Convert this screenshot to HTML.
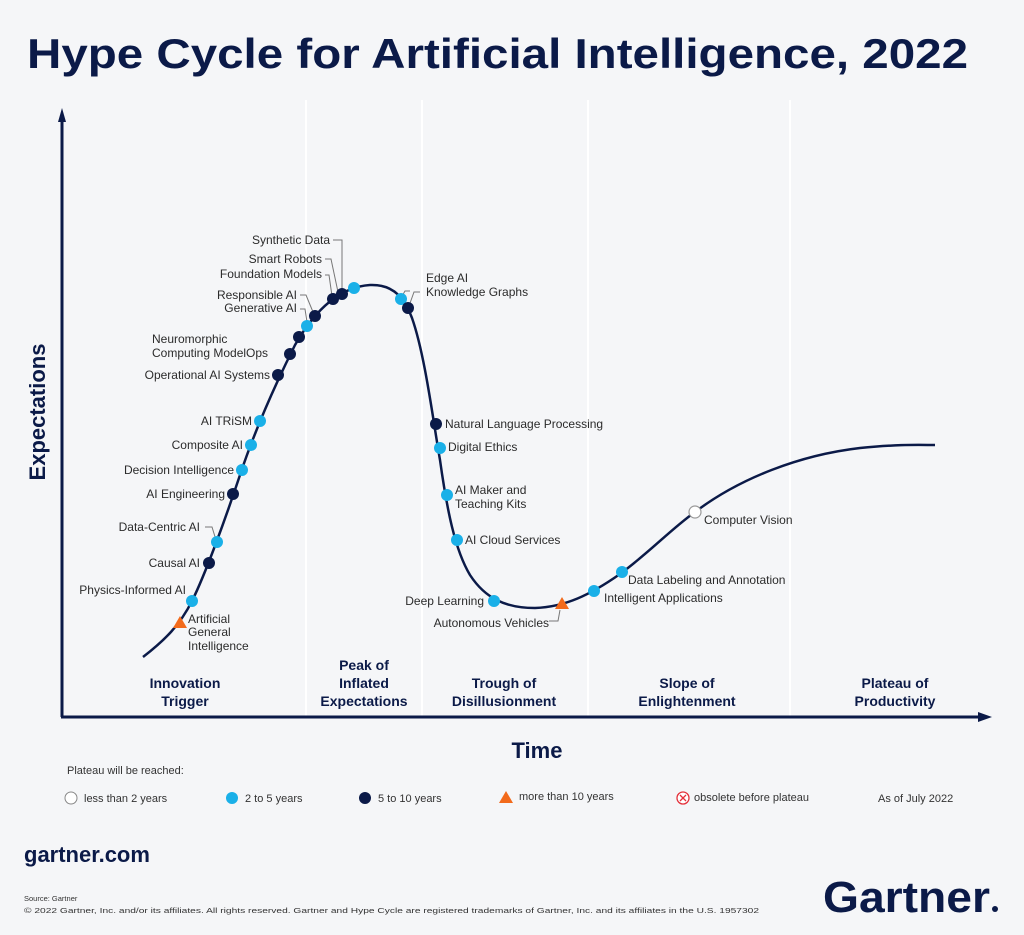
<!DOCTYPE html>
<html><head><meta charset="utf-8"><style>
html,body{margin:0;padding:0;background:#f5f6f8;}
svg{display:block;font-family:"Liberation Sans",sans-serif;}
.l{font-size:12px;fill:#2b2b2b;}
.ph{font-size:14px;font-weight:bold;fill:#0b1a48;text-anchor:middle;}
.lg{font-size:11px;fill:#333;}
.ld{stroke:#777;stroke-width:1;fill:none;}
</style></head><body>
<svg width="1024" height="935" viewBox="0 0 1024 935">
<rect width="1024" height="935" fill="#f5f6f8"/>
<text x="27" y="68" font-size="42" font-weight="bold" fill="#0b1a48" textLength="941" lengthAdjust="spacingAndGlyphs">Hype Cycle for Artificial Intelligence, 2022</text>
<g stroke="#ffffff" stroke-width="2">
<line x1="306" y1="100" x2="306" y2="716"/><line x1="422" y1="100" x2="422" y2="716"/>
<line x1="588" y1="100" x2="588" y2="716"/><line x1="790" y1="100" x2="790" y2="716"/>
</g>
<g stroke="#0b1a48" stroke-width="3" fill="none">
<line x1="62" y1="118" x2="62" y2="717"/><line x1="61" y1="717" x2="982" y2="717"/>
</g>
<polygon points="62,108 58,122 66,122" fill="#0b1a48"/>
<polygon points="992,717 978,712 978,722" fill="#0b1a48"/>
<text transform="translate(45,412) rotate(-90)" font-size="22" font-weight="bold" fill="#0b1a48" text-anchor="middle">Expectations</text>
<text x="537" y="758" font-size="22" font-weight="bold" fill="#0b1a48" text-anchor="middle">Time</text>
<text class="ph" x="185" y="688">Innovation</text><text class="ph" x="185" y="706">Trigger</text>
<text class="ph" x="364" y="670">Peak of</text><text class="ph" x="364" y="688">Inflated</text><text class="ph" x="364" y="706">Expectations</text>
<text class="ph" x="504" y="688">Trough of</text><text class="ph" x="504" y="706">Disillusionment</text>
<text class="ph" x="687" y="688">Slope of</text><text class="ph" x="687" y="706">Enlightenment</text>
<text class="ph" x="895" y="688">Plateau of</text><text class="ph" x="895" y="706">Productivity</text>
<path d="M143,657 C165,640 180,625 192,601 C205,575 225,520 240,475 C255,430 275,385 295,345 C315,310 340,287 370,285 C395,284 405,300 412,318 C425,355 433,420 440,460 C447,510 455,550 470,575 C485,598 505,608 535,608 C565,607 590,595 620,574 C650,552 670,530 695,512 C740,478 800,455 860,448 C900,444 920,445 935,445" stroke="#0b1a48" stroke-width="2.5" fill="none"/>
<g class="ld">
<polyline points="333,240 342,240 342,290"/><polyline points="325,259 331,259 338,292"/><polyline points="325,275 329,275 332,296"/>
<polyline points="300,295 306,295 313,312"/><polyline points="300,309 305,309 307,322"/>
<polyline points="205,527 212,527 216,540"/>
<polyline points="410,291 405,291 401,298"/><polyline points="420,292 414,292 409,306"/>
<polyline points="549,621 558,621 560,610"/>
</g>
<g fill="#1ab0e8">
<circle cx="192" cy="601" r="6"/><circle cx="217" cy="542" r="6"/><circle cx="242" cy="470" r="6"/><circle cx="251" cy="445" r="6"/><circle cx="260" cy="421" r="6"/><circle cx="307" cy="326" r="6"/><circle cx="354" cy="288" r="6"/><circle cx="401" cy="299" r="6"/><circle cx="440" cy="448" r="6"/><circle cx="447" cy="495" r="6"/><circle cx="457" cy="540" r="6"/><circle cx="494" cy="601" r="6"/><circle cx="594" cy="591" r="6"/><circle cx="622" cy="572" r="6"/>
</g>
<g fill="#0b1a48">
<circle cx="209" cy="563" r="6"/><circle cx="233" cy="494" r="6"/><circle cx="278" cy="375" r="6"/><circle cx="290" cy="354" r="6"/><circle cx="299" cy="337" r="6"/><circle cx="315" cy="316" r="6"/><circle cx="333" cy="299" r="6"/><circle cx="342" cy="294" r="6"/><circle cx="408" cy="308" r="6"/><circle cx="436" cy="424" r="6"/>
</g>
<circle cx="695" cy="512" r="6" fill="#fff" stroke="#999" stroke-width="1.2"/>
<polygon points="180,616 173,628 187,628" fill="#f26a1b"/>
<polygon points="562,597 555,609 569,609" fill="#f26a1b"/>
<g class="l">
<text x="330" y="244" text-anchor="end">Synthetic Data</text>
<text x="322" y="263" text-anchor="end">Smart Robots</text>
<text x="322" y="278" text-anchor="end">Foundation Models</text>
<text x="297" y="299" text-anchor="end">Responsible AI</text>
<text x="297" y="312" text-anchor="end">Generative AI</text>
<text x="152" y="343">Neuromorphic</text>
<text x="152" y="357">Computing ModelOps</text>
<text x="270" y="379" text-anchor="end">Operational AI Systems</text>
<text x="252" y="425" text-anchor="end">AI TRiSM</text>
<text x="243" y="449" text-anchor="end">Composite AI</text>
<text x="234" y="474" text-anchor="end">Decision Intelligence</text>
<text x="225" y="498" text-anchor="end">AI Engineering</text>
<text x="200" y="531" text-anchor="end">Data-Centric AI</text>
<text x="200" y="567" text-anchor="end">Causal AI</text>
<text x="186" y="594" text-anchor="end">Physics-Informed AI</text>
<text x="188" y="623">Artificial</text><text x="188" y="636">General</text><text x="188" y="650">Intelligence</text>
<text x="426" y="282">Edge AI</text><text x="426" y="296">Knowledge Graphs</text>
<text x="445" y="428">Natural Language Processing</text>
<text x="448" y="451">Digital Ethics</text>
<text x="455" y="494">AI Maker and</text><text x="455" y="508">Teaching Kits</text>
<text x="465" y="544">AI Cloud Services</text>
<text x="484" y="605" text-anchor="end">Deep Learning</text>
<text x="549" y="627" text-anchor="end">Autonomous Vehicles</text>
<text x="604" y="602">Intelligent Applications</text>
<text x="628" y="584">Data Labeling and Annotation</text>
<text x="704" y="524">Computer Vision</text>
</g>
<text class="lg" x="67" y="774">Plateau will be reached:</text>
<circle cx="71" cy="798" r="6" fill="#fff" stroke="#888"/><text class="lg" x="84" y="802">less than 2 years</text>
<circle cx="232" cy="798" r="6" fill="#1ab0e8"/><text class="lg" x="245" y="802">2 to 5 years</text>
<circle cx="365" cy="798" r="6" fill="#0b1a48"/><text class="lg" x="378" y="802">5 to 10 years</text>
<polygon points="506,791 499,803 513,803" fill="#f26a1b"/><text class="lg" x="519" y="800">more than 10 years</text>
<circle cx="683" cy="798" r="6" fill="#fff" stroke="#e4303a" stroke-width="1.3"/><path d="M680,795 L686,801 M686,795 L680,801" stroke="#e4303a" stroke-width="1.3"/>
<text class="lg" x="694" y="801">obsolete before plateau</text>
<text class="lg" x="878" y="802">As of July 2022</text>
<text x="24" y="862" font-size="22" font-weight="bold" fill="#0b1a48">gartner.com</text>
<text x="24" y="901" font-size="7.5" fill="#333">Source: Gartner</text>
<text x="24" y="913" font-size="7.5" fill="#333" textLength="735" lengthAdjust="spacingAndGlyphs">© 2022 Gartner, Inc. and/or its affiliates. All rights reserved. Gartner and Hype Cycle are registered trademarks of Gartner, Inc. and its affiliates in the U.S. 1957302</text>
<text x="823" y="912" font-size="44" font-weight="bold" fill="#0b1a48" textLength="167" lengthAdjust="spacingAndGlyphs">Gartner</text>
<circle cx="995" cy="909" r="3" fill="#0b1a48"/>
</svg>
</body></html>
